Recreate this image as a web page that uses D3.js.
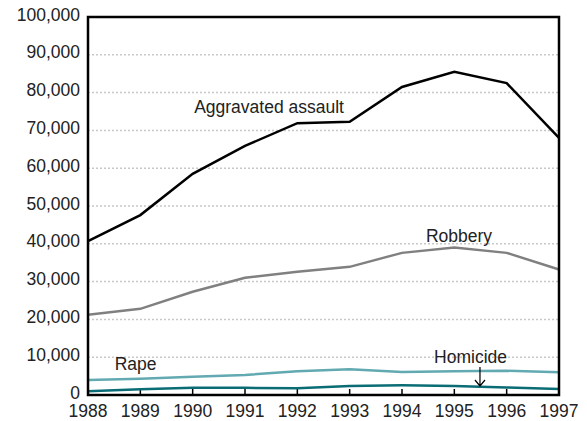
<!DOCTYPE html>
<html>
<head>
<meta charset="utf-8">
<script src="https://cdn.jsdelivr.net/npm/d3@7"></script>
<style>
    body { margin: 0; background: #fff; }
    text { font-family: "Liberation Sans", Arial, sans-serif; fill: #222; }
</style>
</head>
<body>
<svg id="chart" width="587" height="421"></svg>
<script>
// values
var years = [1988, 1989, 1990, 1991, 1992, 1993, 1994, 1995, 1996, 1997];
var aggravated = [40700, 47600, 58500, 65900, 71900, 72300, 81500, 85500, 82500, 68000];
var robbery = [21200, 22800, 27300, 31000, 32600, 33900, 37600, 39000, 37600, 33200];
var rape = [4000, 4300, 4800, 5300, 6300, 6800, 6100, 6300, 6400, 6000];
var homicide = [1000, 1500, 1900, 1900, 1800, 2400, 2550, 2400, 2000, 1600];
var yTicks = [0, 10000, 20000, 30000, 40000, 50000, 60000, 70000, 80000, 90000, 100000];

var series = [
    {name: "Aggravated assault", values: aggravated, color: "#000", width: 2.5},
    {name: "Robbery", values: robbery, color: "#808080", width: 2.5},
    {name: "Rape", values: rape, color: "#62a9b1", width: 2.5},
    {name: "Homicide", values: homicide, color: "#0a6d75", width: 2.5}
];

(function () {
    var svg = d3.select("#chart");
    var mLeft = 88, mRight = 559, mTop = 17, mBottom = 395;
    var fs = "17.5px";

    var x = d3.scaleLinear().domain([1988, 1997]).range([mLeft, mRight]);
    var y = d3.scaleLinear().domain([0, 100000]).range([mBottom, mTop]);

    // dotted gridlines
    svg.append("g")
        .selectAll("line")
        .data(yTicks.slice(1, -1))
        .enter().append("line")
        .attr("x1", mLeft).attr("x2", mRight)
        .attr("y1", function (d) { return y(d); })
        .attr("y2", function (d) { return y(d); })
        .attr("stroke", "#c8c8c8")
        .attr("stroke-width", 1.5)
        .attr("stroke-dasharray", "2,2");

    // y labels (sit a little above their gridline, like the original)
    svg.append("g")
        .selectAll("text")
        .data(yTicks)
        .enter().append("text")
        .attr("x", mLeft - 8)
        .attr("y", function (d) { return y(d) - 2.5; })
        .attr("dy", "0.35em")
        .attr("text-anchor", "end")
        .style("font-size", fs)
        .text(function (d) { return d3.format(",")(d); });

    // x ticks pointing inward
    svg.append("g")
        .selectAll("line")
        .data(years)
        .enter().append("line")
        .attr("x1", function (d) { return x(d); })
        .attr("x2", function (d) { return x(d); })
        .attr("y1", mBottom).attr("y2", mBottom - 6)
        .attr("stroke", "#000").attr("stroke-width", 1.5);

    svg.append("g")
        .selectAll("text")
        .data(years)
        .enter().append("text")
        .attr("x", function (d) { return x(d); })
        .attr("y", mBottom + 22)
        .attr("text-anchor", "middle")
        .style("font-size", fs)
        .text(function (d) { return d; });

    // lines
    var line = d3.line()
        .x(function (d, i) { return x(years[i]); })
        .y(function (d) { return y(d); });

    svg.append("g")
        .selectAll("path")
        .data(series.slice().reverse())
        .enter().append("path")
        .attr("d", function (d) { return line(d.values); })
        .attr("fill", "none")
        .attr("stroke", function (d) { return d.color; })
        .attr("stroke-width", function (d) { return d.width; })
        .attr("stroke-linejoin", "miter");

    // plot frame
    svg.append("rect")
        .attr("x", mLeft).attr("y", mTop)
        .attr("width", mRight - mLeft).attr("height", mBottom - mTop)
        .attr("fill", "none")
        .attr("stroke", "#000")
        .attr("stroke-width", 2.5);

    // series labels
    var labels = [
        {text: "Aggravated assault", x: 1991.46, v: 74600},
        {text: "Robbery", x: 1995.09, v: 40550},
        {text: "Rape", x: 1988.91, v: 6600},
        {text: "Homicide", x: 1995.31, v: 8370}
    ];
    svg.append("g")
        .selectAll("text")
        .data(labels)
        .enter().append("text")
        .attr("x", function (d) { return x(d.x); })
        .attr("y", function (d) { return y(d.v); })
        .attr("text-anchor", "middle")
        .style("font-size", fs)
        .text(function (d) { return d.text; });

    // arrow to homicide line
    var ax = x(1995.49);
    svg.append("path")
        .attr("d", "M" + ax + "," + (y(0) - 28) + "V" + (y(0) - 9) +
            "M" + (ax - 5) + "," + (y(0) - 15) + "L" + ax + "," + (y(0) - 9) + "L" + (ax + 5) + "," + (y(0) - 15))
        .attr("fill", "none")
        .attr("stroke", "#000")
        .attr("stroke-width", 1.2);
})();
</script>
</body>
</html>
